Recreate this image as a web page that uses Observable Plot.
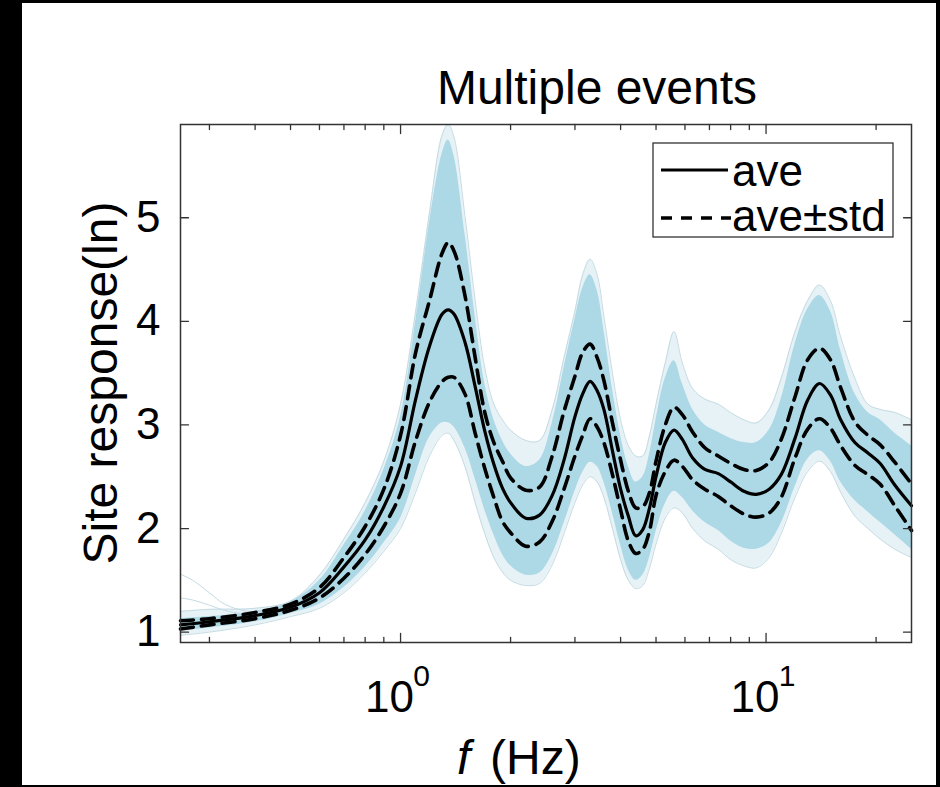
<!DOCTYPE html>
<html><head><meta charset="utf-8">
<script src="https://cdn.jsdelivr.net/npm/d3@7"></script>
<script src="https://cdn.jsdelivr.net/npm/@observablehq/plot@0.6"></script>
<style>
html,body{margin:0;padding:0;background:#000;width:940px;height:787px;overflow:hidden;}
#page{position:absolute;left:22px;top:3px;width:914px;height:782px;background:#fff;}
#chart{position:absolute;left:0;top:0;}
</style></head>
<body><div id="page"></div><div id="chart"></div>
<script>
// ---- data ----
const freq = [0.25,0.3,0.4,0.5,0.6,0.7,0.8,0.9,1.0,1.1,1.2,1.3,1.35,1.4,1.5,1.6,1.7,1.8,1.9,2.0,2.2,2.4,2.6,2.8,3.0,3.15,3.3,3.45,3.6,3.8,4.0,4.2,4.4,4.6,4.8,5.0,5.3,5.6,5.9,6.3,6.8,7.4,8.0,8.7,9.4,10.2,11.0,12.0,13.0,14.0,15.0,16.0,17.5,19.0,20.5,22.5,25];
const ave = [1.07,1.10,1.16,1.24,1.38,1.63,1.89,2.21,2.60,3.25,3.76,4.07,4.11,4.07,3.80,3.37,2.94,2.62,2.39,2.25,2.10,2.13,2.32,2.66,3.08,3.30,3.42,3.33,3.15,2.75,2.38,2.12,1.93,1.99,2.20,2.50,2.83,2.95,2.86,2.68,2.57,2.53,2.45,2.36,2.33,2.38,2.52,2.87,3.24,3.40,3.29,3.05,2.83,2.73,2.63,2.42,2.22];
const aveUp = [1.11,1.13,1.19,1.27,1.43,1.72,2.02,2.38,2.90,3.70,4.20,4.66,4.76,4.68,4.25,3.65,3.12,2.83,2.65,2.49,2.37,2.40,2.70,3.13,3.47,3.70,3.78,3.65,3.43,3.02,2.66,2.36,2.20,2.21,2.35,2.65,3.00,3.17,3.10,2.93,2.78,2.70,2.63,2.57,2.56,2.64,2.86,3.27,3.63,3.74,3.63,3.36,3.03,2.90,2.81,2.64,2.43];
const aveDn = [1.03,1.07,1.13,1.21,1.33,1.52,1.75,2.02,2.34,2.85,3.22,3.42,3.46,3.46,3.30,2.92,2.58,2.30,2.07,1.96,1.83,1.87,2.07,2.38,2.70,2.90,3.06,2.98,2.83,2.52,2.18,1.88,1.76,1.80,1.98,2.32,2.55,2.66,2.60,2.47,2.38,2.31,2.22,2.14,2.11,2.15,2.30,2.68,2.96,3.06,2.97,2.80,2.61,2.52,2.43,2.22,1.98];
// dense band of the individual events
const coreHi = [1.13,1.15,1.20,1.29,1.50,1.84,2.17,2.57,3.08,4.00,4.95,5.62,5.75,5.60,4.85,4.05,3.40,3.05,2.85,2.72,2.60,2.66,3.02,3.55,4.02,4.32,4.45,4.30,3.92,3.35,2.90,2.60,2.45,2.50,2.72,3.05,3.45,3.62,3.40,3.15,3.00,2.93,2.87,2.83,2.83,2.95,3.25,3.78,4.12,4.25,4.10,3.72,3.30,3.12,3.05,2.92,2.80];
const coreLo = [1.01,1.04,1.10,1.18,1.27,1.43,1.63,1.86,2.10,2.52,2.88,3.02,3.02,2.98,2.78,2.48,2.18,1.94,1.75,1.64,1.55,1.57,1.75,2.05,2.36,2.54,2.64,2.60,2.45,2.15,1.84,1.60,1.50,1.55,1.72,1.97,2.24,2.36,2.30,2.17,2.06,1.98,1.88,1.81,1.80,1.86,2.05,2.40,2.67,2.75,2.65,2.45,2.27,2.16,2.06,1.94,1.80];
// outermost individual events
const envHi = [1.20,1.22,1.23,1.30,1.55,1.90,2.25,2.65,3.20,4.10,5.05,5.80,5.90,5.78,5.02,4.20,3.55,3.20,3.05,2.95,2.85,2.85,3.15,3.65,4.10,4.45,4.60,4.45,4.05,3.50,3.05,2.80,2.70,2.70,2.90,3.20,3.60,3.90,3.60,3.35,3.25,3.20,3.12,3.05,3.02,3.15,3.45,3.90,4.20,4.35,4.20,3.85,3.45,3.20,3.15,3.12,3.05];
const envLo = [0.97,1.00,1.07,1.15,1.23,1.38,1.57,1.78,2.00,2.35,2.70,2.90,2.92,2.85,2.60,2.25,1.95,1.72,1.58,1.50,1.45,1.47,1.65,1.95,2.25,2.42,2.50,2.45,2.30,2.00,1.70,1.50,1.42,1.45,1.62,1.85,2.10,2.20,2.15,2.00,1.88,1.80,1.70,1.64,1.62,1.72,1.95,2.30,2.55,2.65,2.55,2.35,2.12,2.00,1.90,1.80,1.72];
// low-frequency outlier events
const outF = [0.25,0.27,0.3,0.33,0.37,0.42];
const out1 = [1.56,1.50,1.38,1.27,1.21,1.19];
const out2 = [1.33,1.31,1.26,1.21,1.18,1.19];
// ticks
const yTicks = [1,2,3,4,5];
const xMajor = [1,10];
const xMinor = [0.3,0.4,0.5,0.6,0.7,0.8,0.9,2,3,4,5,6,7,8,9,20];
const xDomain = [0.25, 25];
const yDomain = [0.9, 5.9];

const rows = freq.map((f, i) => ({f, ave: ave[i], up: aveUp[i], dn: aveDn[i], cHi: coreHi[i], cLo: coreLo[i], eHi: envHi[i], eLo: envLo[i]}));
const outRows = outF.map((f, i) => ({f, a: out1[i], b: out2[i]}));

const FONT = "'Liberation Sans', Arial, Helvetica, sans-serif";
const curve = "catmull-rom";
const stub = {draw(ctx, l) { ctx.moveTo(0, 0); ctx.lineTo(0, -l); }};
const tickColor = "#333";
function tickMarks(data, xf, yf, rot, len) {
  return Plot.vector(data, {x: xf, y: yf, rotate: rot, length: len, anchor: "start", shape: stub, stroke: tickColor, strokeWidth: 1.3});
}
const lo = () => yDomain[0], hi = () => yDomain[1], left = () => xDomain[0], right = () => xDomain[1];

const plot = Plot.plot({
  width: 940, height: 787,
  marginLeft: 180, marginRight: 29, marginTop: 124, marginBottom: 145,
  style: {background: "transparent", fontFamily: FONT, fontSize: "44px", color: "#000"},
  x: {type: "log", domain: xDomain},
  y: {domain: yDomain},
  marks: [
    Plot.areaY(rows, {x: "f", y1: "eLo", y2: "eHi", fill: "#cfe5ed", fillOpacity: 0.5, curve}),
    Plot.areaY(rows, {x: "f", y1: "cLo", y2: "cHi", fill: "#add8e6", curve}),
    Plot.lineY(rows, {x: "f", y: "eHi", stroke: "#c4dbe3", strokeWidth: 1, curve}),
    Plot.lineY(rows, {x: "f", y: "eLo", stroke: "#c4dbe3", strokeWidth: 1, curve}),
    Plot.lineY(outRows, {x: "f", y: "a", stroke: "#c4dbe3", strokeWidth: 1, curve}),
    Plot.lineY(outRows, {x: "f", y: "b", stroke: "#c4dbe3", strokeWidth: 1, curve}),
    Plot.lineY(rows, {x: "f", y: "up", stroke: "#000", strokeWidth: 3.6, strokeDasharray: "13,8", curve}),
    Plot.lineY(rows, {x: "f", y: "dn", stroke: "#000", strokeWidth: 3.6, strokeDasharray: "13,8", curve}),
    Plot.lineY(rows, {x: "f", y: "ave", stroke: "#000", strokeWidth: 3.2, curve}),
    Plot.frame({stroke: tickColor, strokeWidth: 1.5}),
    tickMarks(xMinor, d => d, lo, 0, 5),
    tickMarks(xMajor, d => d, lo, 0, 9),
    tickMarks(xMinor, d => d, hi, 180, 5),
    tickMarks(xMajor, d => d, hi, 180, 9),
    tickMarks(yTicks, left, d => d, 90, 8),
    tickMarks(yTicks, right, d => d, -90, 8),
    Plot.axisY(yTicks, {anchor: "left", tickSize: 0, tickPadding: 20, fontSize: 44, label: null, tickFormat: d => String(d)}),
    Plot.axisX(xMajor, {anchor: "bottom", tickSize: 0, tickPadding: 38, fontSize: 44, dx: -11, label: null, tickFormat: () => "10"}),
    Plot.text(xMajor, {x: d => d, y: lo, text: d => String(Math.round(Math.log10(d))), fontSize: 30, dx: 21, dy: 22, lineAnchor: "top", textAnchor: "middle", fill: "#000"})
  ]
});
document.getElementById("chart").appendChild(plot);

// title, axis labels and legend as real text in the same svg
const svg = d3.select(plot);
const T = (sel) => sel.attr("font-family", FONT).attr("fill", "#000").attr("text-anchor", "start");
T(svg.append("text")).attr("x", 597).attr("y", 104).attr("text-anchor", "middle")
  .attr("font-size", 48).text("Multiple events");
T(svg.append("text")).attr("transform", "translate(117,383) rotate(-90)").attr("text-anchor", "middle")
  .attr("font-size", 48).text("Site response(ln)");
const xl = T(svg.append("text")).attr("y", 774).attr("font-size", 48);
xl.append("tspan").attr("x", 457).attr("font-style", "italic").text("f");
xl.append("tspan").attr("x", 490).text("(Hz)");

const lg = svg.append("g");
lg.append("rect").attr("x", 653).attr("y", 143).attr("width", 240).attr("height", 94)
  .attr("fill", "#fff").attr("stroke", tickColor).attr("stroke-width", 1.3);
lg.append("line").attr("x1", 661).attr("x2", 728).attr("y1", 170).attr("y2", 170).attr("stroke", "#000").attr("stroke-width", 3.2);
lg.append("line").attr("x1", 661).attr("x2", 731).attr("y1", 218).attr("y2", 218).attr("stroke", "#000").attr("stroke-width", 3.6).attr("stroke-dasharray", "11,9");
T(lg.append("text")).attr("x", 732).attr("y", 186).attr("font-size", 44).text("ave");
T(lg.append("text")).attr("x", 732).attr("y", 231).attr("font-size", 44).text("ave\u00B1std");
</script>
</body></html>
